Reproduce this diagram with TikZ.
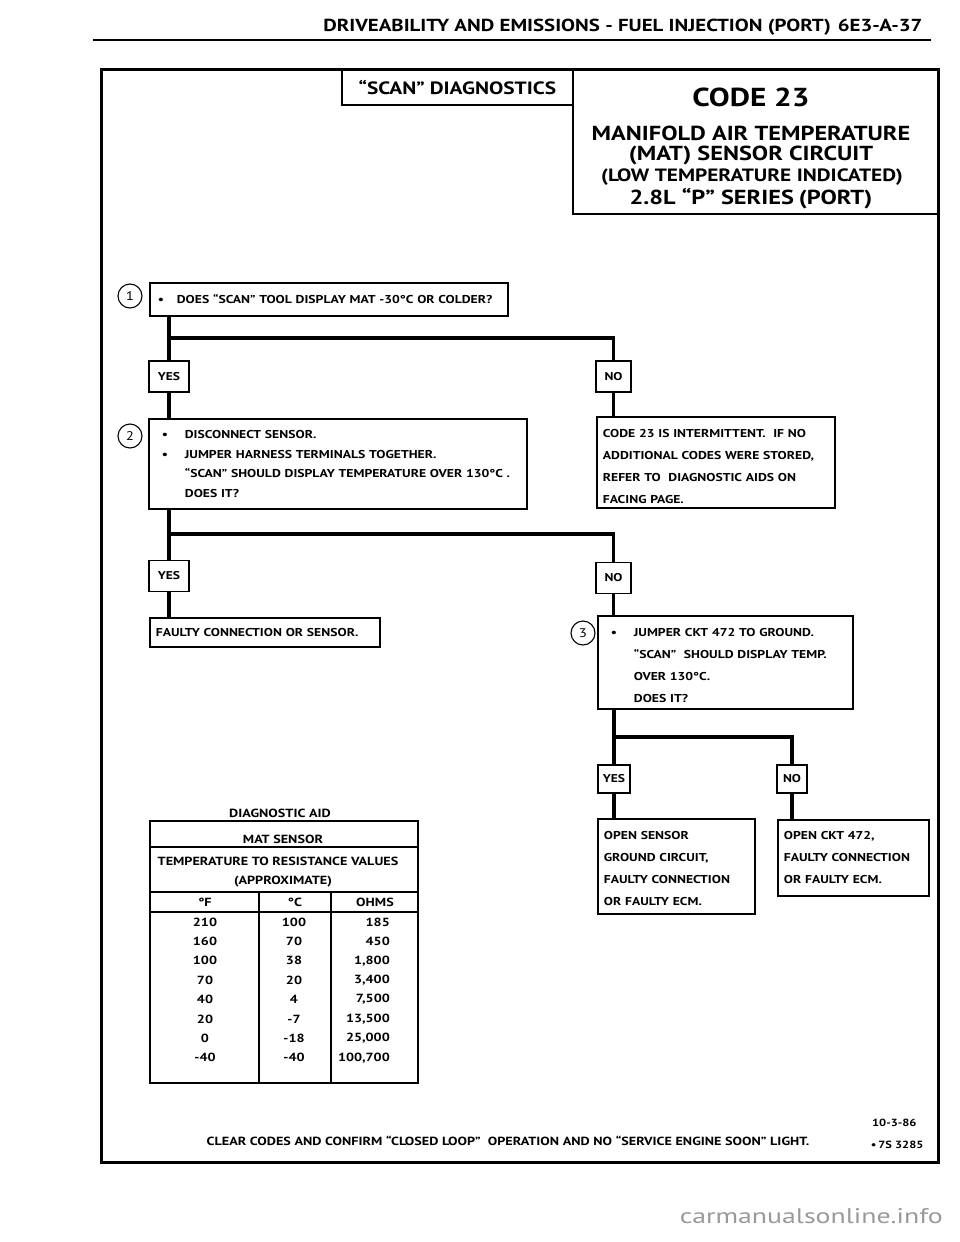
\documentclass[tikz,border=0pt]{standalone}
\usepackage{fontspec}
\setmainfont{PT Sans}[FakeStretch=1.2]
\usetikzlibrary{calc}

\newcommand{\itm}{\makebox[23pt][l]{\textbullet}}
\newcommand{\gap}{\hspace*{23pt}}
\newcommand{\fs}[2]{\fontsize{#1}{#2}\selectfont}

\begin{document}
\begin{tikzpicture}[x=1pt, y=-1pt,
    box/.style={draw, line width=1.8pt, anchor=north west, align=left,
      inner xsep=6pt, inner ysep=0pt, font=\bfseries\fs{11.4}{22}},
    ans/.style={draw, line width=1.8pt, inner sep=0pt, minimum height=31pt,
      font=\bfseries\fs{11.3}{12}},
    link/.style={line width=3.8pt},
    num/.style={draw, circle, line width=1.1pt, minimum size=24pt, inner sep=0pt,
      font=\fs{12.5}{13}},
    cell/.style={font=\bfseries\fs{11.8}{12}, inner sep=0pt}]
    \useasboundingbox (0,0) rectangle (960,1242);

    % Page head
    \node[anchor=east, font=\bfseries\fs{17.4}{18}] (head) at (926,27)
      {DRIVEABILITY AND EMISSIONS - FUEL INJECTION (PORT)\hspace{7pt}6E3-A-37};
    \draw[line width=2.8pt] (93,40) -- (931,40);

    % Frame and title boxes
    \draw[line width=3pt] (101,69) rectangle (938,1162);
    \node[draw, line width=1.8pt, anchor=north west, minimum width=231pt,
      minimum height=35pt, inner sep=0pt, font=\bfseries\fs{17.8}{18}] (scan) at (341,69)
      {``SCAN''\hspace{5pt}DIAGNOSTICS};
    \node[draw, line width=1.8pt, anchor=north west, minimum width=366pt,
      minimum height=144pt, inner sep=0pt] (code) at (572,69) {};
    \node[font=\bfseries\fs{26}{26}] (t1) at (751,97) {CODE 23};
    \node[font=\bfseries\fs{20.3}{20}] (t2) at (751,133) {MANIFOLD AIR TEMPERATURE};
    \node[font=\bfseries\fs{20.3}{20}] (t3) at (751,155) {(MAT) SENSOR CIRCUIT};
    \node[font=\bfseries\fs{17.8}{18}] (t4) at (752,177) {(LOW TEMPERATURE INDICATED)};
    \node[font=\bfseries\fs{20.3}{20}] (t5) at (751,199) {2.8L ``P''\hspace{6pt}SERIES\hspace{5pt}(PORT)};

    % Step 1
    \node[num] (c1) at (130,296) {1};
    \node[box, text width=346pt, minimum height=33pt] (q1) at (149,282)
      {\makebox[21pt][l]{\hspace*{2pt}\textbullet}DOES ``SCAN'' TOOL DISPLAY MAT -30°C OR COLDER?};
    \node[ans, minimum width=40pt] (y1) at (169,376.5) {YES};
    \node[ans, minimum width=35pt] (n1) at (613.5,376.5) {NO};
    \coordinate (s1) at (168,338);
    \draw[link] (y1.north) -- (y1 |- q1.south);
    \draw[link] (y1 |- s1) -| (n1.north);

    % Step 2
    \node[num] (c2) at (130,436) {2};
    \node[box, text width=366pt, minimum height=90pt] (q2) at (148,418)
      {\hspace*{7pt}\itm DISCONNECT SENSOR.\\[-2.5pt]
       \hspace*{7pt}\itm JUMPER HARNESS TERMINALS TOGETHER.\\[-2.5pt]
       \hspace*{7pt}\gap ``SCAN'' SHOULD DISPLAY TEMPERATURE OVER 130°C .\\[-2.5pt]
       \hspace*{7pt}\gap DOES IT?};
    \node[box, text width=226pt, minimum height=91pt] (r1) at (596,416)
      {\rule{0pt}{16pt}CODE 23 IS INTERMITTENT.\ \ IF NO\\
       ADDITIONAL CODES WERE STORED,\\
       REFER TO\ \ DIAGNOSTIC AIDS ON\\
       FACING PAGE.};
    \draw[link] (y1.south) -- (y1 |- q2.north);
    \draw[link] (n1.south) -- (n1 |- r1.north);

    \node[ans, minimum width=40pt] (y2) at (169,576) {YES};
    \node[ans, minimum width=35pt] (n2) at (613.5,578) {NO};
    \coordinate (s2) at (168,534);
    \draw[link] (y2.north) -- (y2 |- q2.south);
    \draw[link] (y2 |- s2) -| (n2.north);

    \node[box, text width=218pt, minimum height=29pt] (r2) at (149,617)
      {FAULTY CONNECTION OR SENSOR.};
    \draw[link] (y2.south) -- (y2 |- r2.north);

    % Step 3
    \node[num] (c3) at (583,633) {3};
    \node[box, text width=243pt, minimum height=93pt] (q3) at (597,615)
      {\hspace*{7pt}\itm\rule{0pt}{14pt}JUMPER CKT 472 TO GROUND.\\
       \hspace*{7pt}\gap ``SCAN''\ \ SHOULD DISPLAY TEMP.\\
       \hspace*{7pt}\gap OVER 130°C.\\
       \hspace*{7pt}\gap DOES IT?};
    \draw[link] (n2.south) -- (n2 |- q3.north);

    \node[ans, minimum width=32pt, minimum height=28pt] (y3) at (614,779) {YES};
    \node[ans, minimum width=30pt, minimum height=28pt] (n3) at (792,779) {NO};
    \coordinate (s3) at (614,737);
    \draw[link] (y3.north) -- (y3 |- q3.south);
    \draw[link] (y3 |- s3) -| (n3.north);

    \node[box, text width=145pt, minimum height=95pt] (r3) at (597,818)
      {\rule{0pt}{13pt}OPEN SENSOR\\
       GROUND CIRCUIT,\\
       FAULTY CONNECTION\\
       OR FAULTY ECM.};
    \node[box, text width=139pt, minimum height=76pt] (r4) at (777,819)
      {OPEN CKT 472,\\
       FAULTY CONNECTION\\
       OR FAULTY ECM.};
    \draw[link] (y3.south) -- (y3 |- r3.north);
    \draw[link] (n3.south) -- (n3 |- r4.north);

    % Diagnostic aid table
    \node[cell] (aid) at (280,813) {DIAGNOSTIC AID};
    \draw[line width=1.8pt] (150,821) rectangle (418,1083);
    \draw[line width=1.4pt] (150,847) -- (418,847);
    \draw[line width=1.4pt] (150,892) -- (418,892);
    \draw[line width=1.4pt] (150,912) -- (418,912);
    \draw[line width=1.4pt] (259,892) -- (259,1083);
    \draw[line width=1.4pt] (331,892) -- (331,1083);
    \node[cell] (mat) at (283,839) {MAT SENSOR};
    \node[cell] (tmp) at (278,861) {TEMPERATURE TO RESISTANCE VALUES};
    \node[cell] (apx) at (283,882) {(APPROXIMATE)};
    \node[cell] (hf) at (205,902) {°F};
    \node[cell] (hc) at (295,902) {°C};
    \node[cell] (ho) at (375,902) {OHMS};
    \foreach \f/\c/\o [count=\i from 0] in {210/100/185, 160/70/450, 100/38/{1,800},
        70/20/{3,400}, 40/4/{7,500}, 20/-7/{13,500}, 0/-18/{25,000}, -40/-40/{100,700}}
    {
      \node[cell] (f\i) at (205,922+19.4*\i) {\f};
      \node[cell] (c\i) at (294,922+19.4*\i) {\c};
      \node[cell, anchor=east] (o\i) at (390,922+19.4*\i) {\o};
    }

    % Foot
    \node[font=\bfseries\fs{11.8}{12}] (clear) at (508,1141)
      {CLEAR CODES AND CONFIRM ``CLOSED LOOP''\ \ OPERATION AND NO ``SERVICE ENGINE SOON'' LIGHT.};
    \node[anchor=east, font=\bfseries\fs{10.4}{11}] (date) at (920,1123) {10-3-86};
    \node[anchor=east, font=\bfseries\fs{10.4}{11}] (ref) at (927,1145) {\textbullet\,7S 3285};
    \node[anchor=east, text=black!40, inner sep=0pt] (site) at (943,1216)
      {\resizebox{263pt}{15pt}{carmanualsonline.info}};
\end{tikzpicture}
\end{document}
